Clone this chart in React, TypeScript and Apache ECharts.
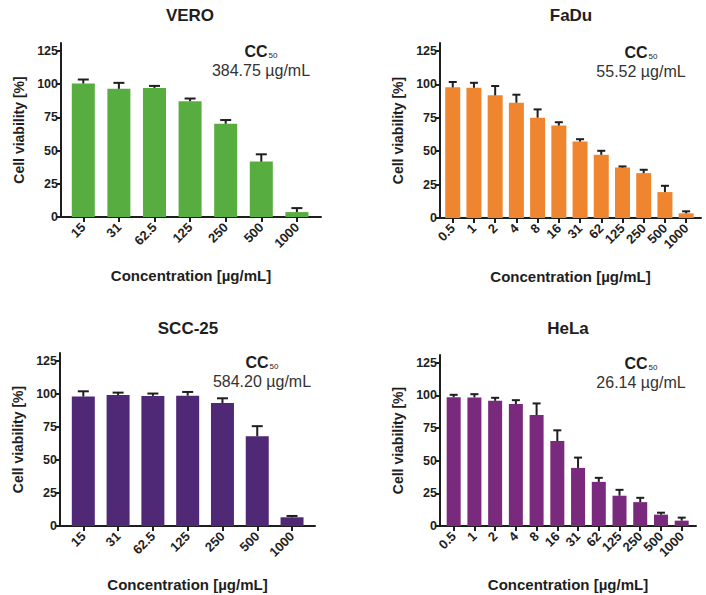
import React, { useEffect, useRef } from 'react';
import * as echarts from 'echarts';

const FONT = '"Liberation Sans", Arial, Helvetica, sans-serif';
const INK = '#1e1e1e';

const panelTitles = ['VERO', 'FaDu', 'SCC-25', 'HeLa'];
const cc50Texts = ['384.75 µg/mL', '55.52 µg/mL', '584.20 µg/mL', '26.14 µg/mL'];
const yAxisName = 'Cell viability [%]';
const xAxisName = 'Concentration [µg/mL]';
const yTicks = [0, 25, 50, 75, 100, 125];

const shortConcentrations = ['15', '31', '62.5', '125', '250', '500', '1000'];
const longConcentrations = ['0.5', '1', '2', '4', '8', '16', '31', '62', '125', '250', '500', '1000'];

const veroValues = [100.5, 96.5, 97.2, 87.2, 70.2, 41.7, 3.7];
const veroErrors = [3, 4.5, 1.5, 2, 2.8, 5.5, 3];

const faduValues = [97.8, 97.5, 91.8, 86.3, 75.1, 69.2, 57.2, 47.3, 37.8, 33.6, 19.4, 3.5];
const faduErrors = [4, 3.7, 7, 6, 6.2, 2.5, 1.8, 3, 0.8, 2.5, 4.7, 1.5];

const sccValues = [98, 99.2, 98.5, 98.7, 93.1, 68, 6.6];
const sccErrors = [4, 1.8, 1.8, 2.8, 3.6, 7.6, 1];

const helaValues = [98.7, 98.5, 95.9, 93.4, 85, 65.1, 44.5, 33.8, 23.2, 18.3, 8.7, 4.1];
const helaErrors = [1.8, 2.5, 2.3, 3, 8.9, 8.2, 7.9, 3.1, 4.5, 3.3, 1.5, 2.3];

const barColors = ['#57ad3f', '#f0852f', '#4f2975', '#7a2a7c'];

const panelData = [
  { categories: shortConcentrations, values: veroValues, errors: veroErrors },
  { categories: longConcentrations, values: faduValues, errors: faduErrors },
  { categories: shortConcentrations, values: sccValues, errors: sccErrors },
  { categories: longConcentrations, values: helaValues, errors: helaErrors },
];

const layouts = [
  { left: 61, top: 43, width: 260, height: 174, xMin: -0.626, xMax: 6.677, barWidth: 23, cap: 11, titleX: 190, titleY: 15, ccX: 261, ccY: 51 },
  { left: 440, top: 43, width: 261, height: 175, xMin: -0.6, xMax: 11.7, barWidth: 15, cap: 8, titleX: 571, titleY: 15, ccX: 641, ccY: 52 },
  { left: 60, top: 353, width: 255, height: 173, xMin: -0.67, xMax: 6.66, barWidth: 23, cap: 11, titleX: 188, titleY: 328, ccX: 262, ccY: 362 },
  { left: 440, top: 355, width: 256, height: 171, xMin: -0.66, xMax: 11.69, barWidth: 14, cap: 8, titleX: 568, titleY: 328, ccX: 641, ccY: 363 },
];

function buildOption() {
  const grid: any[] = [];
  const xAxis: any[] = [];
  const yAxis: any[] = [];
  const series: any[] = [];
  const graphic: any[] = [];

  panelData.forEach((p, k) => {
    const L = layouts[k];
    const idx = p.categories.map((_, i) => i);
    grid.push({ left: L.left, top: L.top, width: L.width, height: L.height, containLabel: false });
    xAxis.push({
      type: 'value',
      gridIndex: k,
      min: L.xMin,
      max: L.xMax,
      name: xAxisName,
      nameLocation: 'middle',
      nameGap: 51,
      nameTextStyle: { fontFamily: FONT, fontWeight: 'bold', fontSize: 15, color: INK },
      axisLine: { show: true, onZero: false, lineStyle: { color: INK, width: 2 } },
      axisTick: { show: true, length: 5, lineStyle: { color: INK, width: 2 }, customValues: idx },
      axisLabel: {
        customValues: idx,
        rotate: 45,
        margin: 8,
        fontFamily: FONT,
        fontWeight: 'bold',
        fontSize: 13,
        color: INK,
        formatter: (v: number) => p.categories[Math.round(v)] ?? '',
      },
      splitLine: { show: false },
    });
    yAxis.push({
      type: 'value',
      gridIndex: k,
      min: 0,
      max: 131,
      name: yAxisName,
      nameLocation: 'middle',
      nameGap: 35,
      nameRotate: 90,
      nameTextStyle: { fontFamily: FONT, fontWeight: 'bold', fontSize: 14, color: INK },
      axisLine: { show: true, onZero: false, lineStyle: { color: INK, width: 2 } },
      axisTick: { show: true, length: 5, lineStyle: { color: INK, width: 2 }, customValues: yTicks },
      axisLabel: {
        customValues: yTicks,
        margin: 3,
        fontFamily: FONT,
        fontWeight: 'bold',
        fontSize: 12.5,
        color: INK,
      },
      splitLine: { show: false },
    });
    series.push({
      type: 'bar',
      xAxisIndex: k,
      yAxisIndex: k,
      barWidth: L.barWidth,
      itemStyle: { color: barColors[k] },
      data: p.values.map((v, i) => [i, v]),
      z: 2,
    });
    const cap = L.cap;
    series.push({
      type: 'custom',
      xAxisIndex: k,
      yAxisIndex: k,
      z: 3,
      data: p.values.map((v, i) => [i, v, v + p.errors[i]]),
      renderItem: (params: any, api: any) => {
        const x = api.value(0);
        const lo = api.coord([x, api.value(1)]);
        const hi = api.coord([x, api.value(2)]);
        const style = { stroke: INK, lineWidth: 2, fill: 'none' };
        return {
          type: 'group',
          children: [
            { type: 'line', shape: { x1: lo[0], y1: lo[1], x2: hi[0], y2: hi[1] }, style },
            { type: 'line', shape: { x1: hi[0] - cap / 2, y1: hi[1], x2: hi[0] + cap / 2, y2: hi[1] }, style },
          ],
        };
      },
    });

    graphic.push({
      type: 'text',
      x: L.titleX,
      y: L.titleY,
      style: {
        text: panelTitles[k],
        fontFamily: FONT,
        fontWeight: 'bold',
        fontSize: 17,
        fill: INK,
        align: 'center',
        verticalAlign: 'middle',
      },
    });
    graphic.push({
      type: 'text',
      x: L.ccX - 16.5,
      y: L.ccY,
      style: {
        text: 'CC',
        fontFamily: FONT,
        fontWeight: 'bold',
        fontSize: 16,
        fill: INK,
        align: 'left',
        verticalAlign: 'middle',
      },
    });
    graphic.push({
      type: 'text',
      x: L.ccX + 7.5,
      y: L.ccY + 4,
      style: {
        text: '50',
        fontFamily: FONT,
        fontSize: 8,
        fill: INK,
        align: 'left',
        verticalAlign: 'middle',
      },
    });
    graphic.push({
      type: 'text',
      x: L.ccX,
      y: L.ccY + 19,
      style: {
        text: cc50Texts[k],
        fontFamily: FONT,
        fontSize: 16,
        fill: '#333',
        align: 'center',
        verticalAlign: 'middle',
      },
    });
  });

  return {
    animation: false,
    backgroundColor: '#ffffff',
    textStyle: { fontFamily: FONT },
    grid,
    xAxis,
    yAxis,
    series,
    graphic,
  };
}

export default function App() {
  const ref = useRef<HTMLDivElement>(null);
  useEffect(() => {
    document.body.style.margin = '0';
    if (!ref.current) return;
    const chart = echarts.init(ref.current, undefined, { renderer: 'svg' });
    chart.setOption(buildOption() as any);
    return () => chart.dispose();
  }, []);
  return <div ref={ref} style={{ width: 706, height: 595 }} />;
}
